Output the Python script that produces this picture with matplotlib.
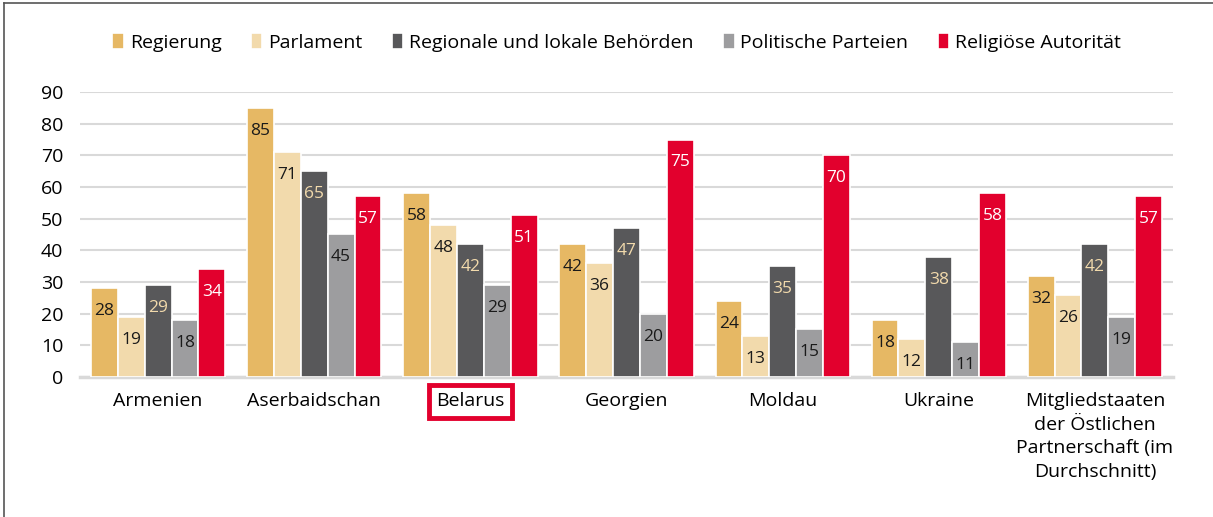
import numpy as np
import matplotlib.pyplot as plt
from matplotlib.lines import Line2D

plt.rcParams['font.family'] = ['Open Sans', 'DejaVu Sans']

# Daten
laender = ["Armenien", "Aserbaidschan", "Belarus", "Georgien", "Moldau", "Ukraine",
           "Mitgliedstaaten\nder Östlichen\nPartnerschaft (im\nDurchschnitt)"]
serien = ["Regierung", "Parlament", "Regionale und lokale Behörden",
          "Politische Parteien", "Religiöse Autorität"]
regierung = [28, 85, 58, 42, 24, 18, 32]
parlament = [19, 71, 48, 36, 13, 12, 26]
behoerden = [29, 65, 42, 47, 35, 38, 42]
parteien = [18, 45, 29, 20, 15, 11, 19]
religion = [34, 57, 51, 75, 70, 58, 57]
werte = [regierung, parlament, behoerden, parteien, religion]

farben = ['#E6B864', '#F2DAAC', '#58585A', '#9D9D9F', '#E2002D']
textfarben = ['#1a1a1a', '#1a1a1a', '#F2DAAC', '#1a1a1a', 'white']

fig = plt.figure(figsize=(12.13, 5.17), dpi=100)
ax = fig.add_axes([0.066, 0.271, 0.901, 0.551])

x = np.arange(len(laender))
w = 0.172
for i, (name, vals) in enumerate(zip(serien, werte)):
    pos = x + (i - 2) * w
    ax.bar(pos, vals, width=w, color=farben[i], edgecolor='white',
           linewidth=1.2, label=name, zorder=3)
    for xb, v in zip(pos, vals):
        ax.annotate(str(v), (xb, v), xytext=(0, -16.5), textcoords='offset points',
                    ha='center', va='center', fontsize=12.5, color=textfarben[i], zorder=4)

ax.set_xlim(-0.5, 6.5)
ax.set_ylim(0, 90)
ax.set_yticks(range(0, 91, 10))
ax.yaxis.grid(True, color='#D9D9D9', linewidth=1.5, zorder=0)
ax.set_axisbelow(True)
for s in ['top', 'right', 'left']:
    ax.spines[s].set_visible(False)
ax.spines['bottom'].set_color('#D9D9D9')
ax.spines['bottom'].set_linewidth(2.5)
ax.tick_params(axis='both', length=0, labelsize=14, colors='black')
ax.tick_params(axis='y', pad=12)
ax.tick_params(axis='x', pad=11)
ax.set_xticks(x)
ax.set_xticklabels(laender, linespacing=1.4)

for lbl in ax.get_xticklabels():
    if lbl.get_text() == "Belarus":
        lbl.set_bbox(dict(facecolor='none', edgecolor='#E2002D', linewidth=3.5, pad=5.5))

ax.legend(loc='center', bbox_to_anchor=(0.491, 1.175), ncol=5, frameon=False,
          fontsize=14, handlelength=0.6, handleheight=0.9, handletextpad=0.3,
          columnspacing=1.5)

# Rahmen oben und links
fig.add_artist(Line2D([0.003, 1], [0.994, 0.994], color='#555555', linewidth=1.2))
fig.add_artist(Line2D([0.003, 0.003], [0, 0.994], color='#555555', linewidth=1.2))

fig.savefig("out.png", dpi=100)
